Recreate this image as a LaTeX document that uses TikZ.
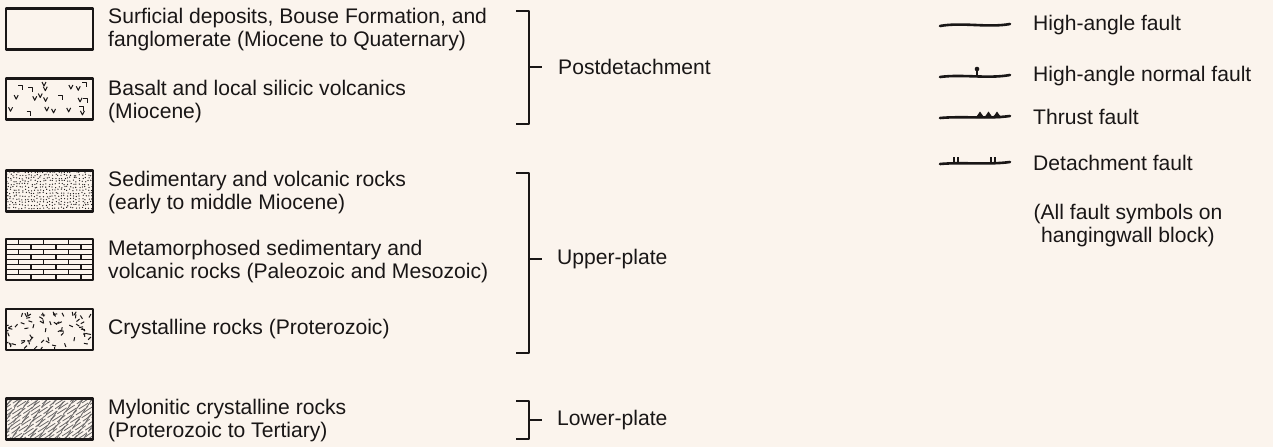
\documentclass[tikz,border=0pt]{standalone}
\usepackage{fontspec}
\setmainfont{Liberation Sans}
\definecolor{bg}{RGB}{251,244,237}
\definecolor{ink}{RGB}{25,22,22}
\newcommand\basaltpat{%
  \pgfmathsetseed{11}%
  \foreach \gx in {-34,-22,...,38}{\foreach \gy in {-12,0,12}{%
    \pgfmathsetmacro\px{\gx+8*rand}%
    \pgfmathsetmacro\py{\gy+3.5*rand}%
    \pgfmathsetmacro\ang{-35+70*rnd}%
    \pgfmathsetmacro\kk{rnd}%
    \ifdim\kk pt<0.6pt
      \draw[ink,line width=1pt,rotate around={\ang:(\px,\py)}] (\px-2,\py-2.5) -- (\px,\py+1.5) -- (\px+2,\py-2.5);
    \else
      \draw[ink,line width=1pt,rotate around={\ang:(\px,\py)}] (\px-2.5,\py-2) -- (\px+1.5,\py-2) -- (\px+1.5,\py+2.5);
    \fi}}}
\newcommand\stipplepat{%
  \pgfmathsetseed{5}%
  \foreach \x in {-42,-39,...,42}{\foreach \y in {-19,-16,...,19}{%
    \fill[ink] (\x+0.9*rand,\y+0.9*rand) circle (0.65);}}}
\newcommand\brickpat{%
  \foreach \k in {1,...,7}{\draw[ink,line width=1.1pt] (-45,-20.5+5.125*\k) -- (45,-20.5+5.125*\k);}
  \foreach \k in {0,...,7}{%
    \pgfmathsetmacro\off{mod(\k,2)*12.5}%
    \foreach \j in {-2,...,2}{\draw[ink,line width=1.1pt] (\off+25*\j-6,-20.5+5.125*\k) -- ++(0,5.125);}}}
\newcommand\crystpat{%
  \pgfmathsetseed{23}%
  \foreach \i in {1,...,70}{%
    \pgfmathsetmacro\px{-42+84*rnd}%
    \pgfmathsetmacro\py{-18+36*rnd}%
    \pgfmathsetmacro\ang{180*rnd}%
    \draw[ink,line width=1pt] (\px,\py) -- ++(\ang:4);}}
\newcommand\mylopat{%
  \pgfmathsetseed{37}%
  \foreach \o in {-80,-76.8,...,80}{%
    \pgfmathsetmacro\ph{14*rnd}%
    \draw[ink!65,line width=0.8pt,dash pattern=on 11pt off 2.5pt,dash phase=\ph pt]
      plot[domain=0:1,samples=18,smooth] ({\o-28+56*\x+1.6*sin(900*\x+40*\o)},{25-50*\x});}}
\begin{document}
\begin{tikzpicture}[x=1pt,y=-1pt,line join=round,
  every node/.style={text=ink,font=\fontsize{21.1}{23}\selectfont,inner sep=0pt},
  legbox/.style={draw=ink,line width=2.1pt,minimum width=87pt,minimum height=41pt,inner sep=0pt},
  patbox/.style={legbox,path picture={\begin{scope}[shift={(path picture bounding box.center)}]#1\end{scope}}},
  leg/.style={anchor=west,align=left},
  brk/.style={draw=ink,line width=2pt},
  fault/.style={draw=ink,line width=2.6pt,line cap=round}]
\fill[bg] (0,0) rectangle (1273,447);
\useasboundingbox (0,0) rectangle (1273,447);
% legend boxes
\node[legbox] (b1) at (49.5,29) {};
\node[patbox=\basaltpat] (b2) at (49.5,99) {};
\node[patbox=\stipplepat] (b3) at (49.5,191) {};
\node[patbox=\brickpat] (b4) at (49.5,259.5) {};
\node[patbox=\crystpat] (b5) at (49.5,329.5) {};
\node[patbox=\mylopat] (b6) at (49.5,419) {};
% legend texts
\node[leg] (t1) at (108,29.5) {Surficial deposits, Bouse Formation, and\\fanglomerate (Miocene to Quaternary)};
\node[leg] (t2) at (108,101.5) {Basalt and local silicic volcanics\\(Miocene)};
\node[leg] (t3) at (108,193) {Sedimentary and volcanic rocks\\(early to middle Miocene)};
\node[leg] (t4) at (108,262) {Metamorphosed sedimentary and\\volcanic rocks (Paleozoic and Mesozoic)};
\node[leg] (t5) at (108,329.5) {Crystalline rocks (Proterozoic)};
\node[leg] (t6) at (108,420.5) {Mylonitic crystalline rocks\\(Proterozoic to Tertiary)};
% brackets
\draw[brk] (516,11) -- (529,11) -- (529,124) -- (516,124);
\draw[brk] (529,67) -- (542,67);
\node[anchor=west] (g1) at (558,67) {Postdetachment};
\draw[brk] (516,173) -- (529,173) -- (529,353) -- (516,353);
\draw[brk] (529,259) -- (542,259);
\node[anchor=west] (g2) at (557,259) {Upper-plate};
\draw[brk] (516,401) -- (529,401) -- (529,439) -- (516,439);
\draw[brk] (529,420) -- (542,420);
\node[anchor=west] (g3) at (557,420) {Lower-plate};
% fault symbols
\coordinate (f1a) at (940,26); \coordinate (f1b) at (1010,24);
\draw[fault] (f1a) .. controls (962,22) and (988,28) .. (f1b);
\node[anchor=west] (l1) at (1033,25) {High-angle fault};
\coordinate (f2a) at (940,77); \coordinate (f2b) at (1010,75);
\draw[fault] (f2a) .. controls (962,74) and (988,79) .. (f2b);
\draw[ink,line width=1.6pt] (977,77) -- (977,70);
\fill[ink] (977,69) circle (2.3);
\node[anchor=west] (l2) at (1033,76) {High-angle normal fault};
\coordinate (f3a) at (940,118); \coordinate (f3b) at (1010,116);
\draw[fault] (f3a) .. controls (962,116) and (988,119) .. (f3b);
\foreach \tx in {980,988.5,997}{\fill[ink] (\tx-4.5,118) -- (\tx,111.5) -- (\tx+4.5,118) -- cycle;}
\node[anchor=west] (l3) at (1033,117) {Thrust fault};
\coordinate (f4a) at (940,164); \coordinate (f4b) at (1010,162);
\draw[fault] (f4a) .. controls (962,162) and (988,165) .. (f4b);
\foreach \tx in {954,958,991,995}{\draw[ink,line width=1.4pt] (\tx,163) -- (\tx,157);}
\node[anchor=west] (l4) at (1033,163) {Detachment fault};
\node[align=center] (note) at (1128,226) {(All fault symbols on\\hangingwall block)};
\end{tikzpicture}
\end{document}
